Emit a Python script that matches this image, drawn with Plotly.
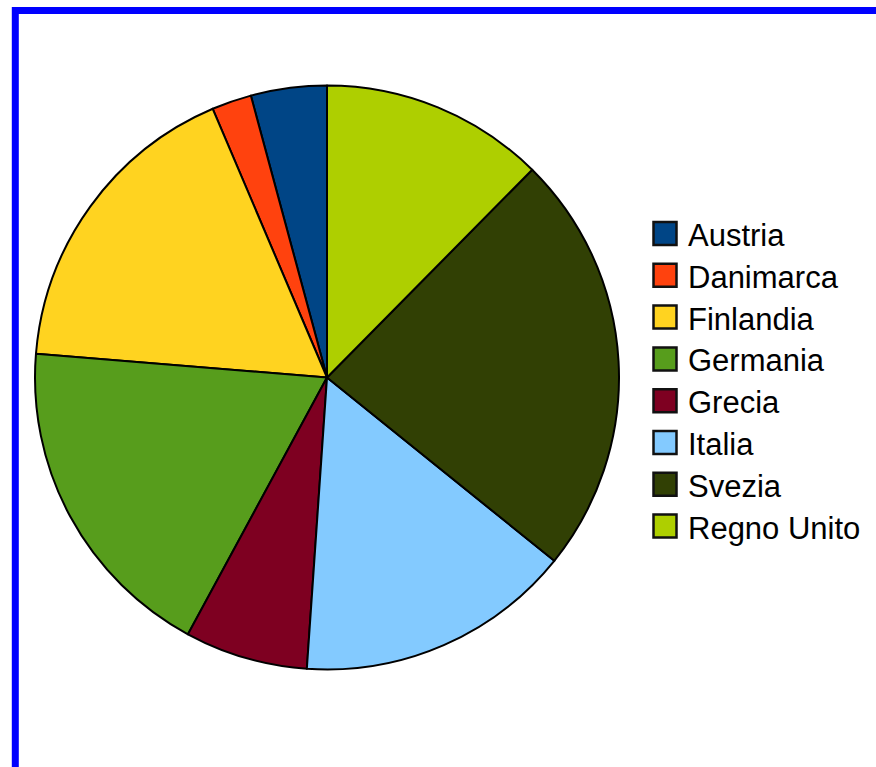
import plotly.graph_objects as go

labels = ["Austria", "Danimarca", "Finlandia", "Germania", "Grecia", "Italia", "Svezia", "Regno Unito"]
values = [4.2, 2.2, 17.3, 18.4, 6.8, 15.3, 23.4, 12.4]
colors = ["#004586", "#ff420e", "#ffd320", "#579d1c", "#7e0021", "#83caff", "#314004", "#aecf00"]

W, H = 876, 767
OFF = 0  # body margin removed via post_script


def px(x):
    return (x - OFF) / W


def py(y):
    return 1 - (y - OFF) / H


first_deg = 360.0 * values[0] / sum(values)

fig = go.Figure(go.Pie(
    labels=labels,
    values=values,
    marker=dict(colors=colors, line=dict(color="#000000", width=2)),
    sort=False,
    direction="counterclockwise",
    rotation=-first_deg,
    textinfo="none",
    hoverinfo="label+value",
    domain=dict(x=[px(35), px(619)], y=[py(670), py(85)]),
    showlegend=False,
))

shapes = [dict(
    type="rect", xref="paper", yref="paper",
    x0=px(15.3), x1=1.05, y0=-0.05, y1=py(10.5),
    line=dict(color="#0000ff", width=7),
    fillcolor="rgba(0,0,0,0)",
)]
annotations = []

# legend (built from labels / colors)
leg_top = 233.5
leg_step = 41.8
sq = 23
for i, (lab, col) in enumerate(zip(labels, colors)):
    yc = leg_top + leg_step * i
    shapes.append(dict(
        type="rect", xref="paper", yref="paper",
        x0=px(653.5), x1=px(653.5 + sq),
        y0=py(yc + sq / 2), y1=py(yc - sq / 2),
        line=dict(color="#111111", width=2.5),
        fillcolor=col,
    ))
    annotations.append(dict(
        xref="paper", yref="paper",
        x=px(686), y=py(yc + 2),
        xanchor="left", yanchor="middle",
        text=lab, showarrow=False,
        font=dict(size=31, family="Liberation Sans, Arial, sans-serif", color="#000000"),
    ))

fig.update_layout(
    width=W, height=H,
    margin=dict(l=0, r=0, t=0, b=0),
    paper_bgcolor="white",
    font=dict(family="Liberation Sans, Arial, sans-serif", color="#000000"),
    shapes=shapes,
    annotations=annotations,
)

fig.write_html(
    "out.html",
    config={"displayModeBar": False},
    post_script="document.body.style.margin='0';document.body.style.overflow='hidden';",
)
